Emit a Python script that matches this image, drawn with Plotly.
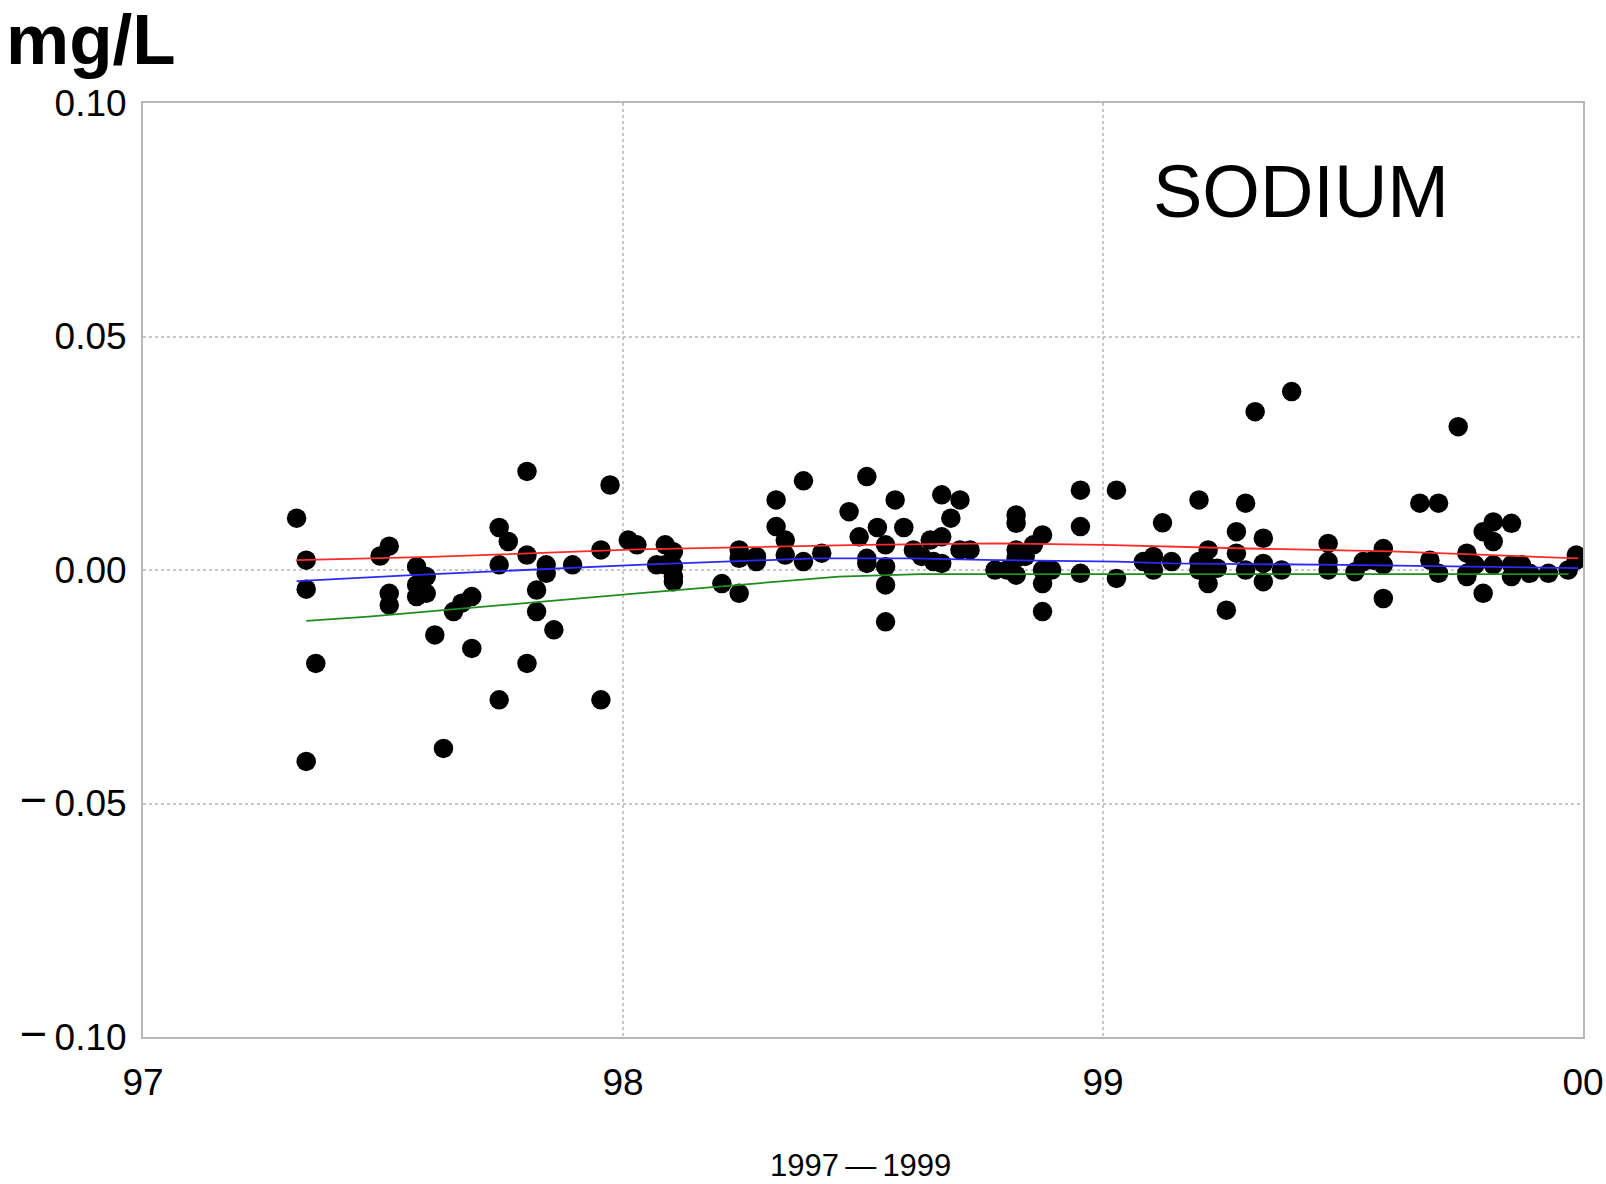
import plotly.graph_objects as go

# ---- data ----
pt_year = [97.320, 97.340, 97.340, 97.360, 97.340, 97.494, 97.513, 97.513, 97.513, 97.570,
           97.590, 97.570, 97.590, 97.570, 97.608, 97.626, 97.647, 97.664, 97.685, 97.685,
           97.742, 97.761, 97.742, 97.742, 97.800, 97.800, 97.800, 97.820, 97.820, 97.840,
           97.840, 97.856, 97.895, 97.954, 97.954, 97.973, 98.011, 98.029, 98.070, 98.088,
           98.088, 98.105, 98.105, 98.105, 98.105, 98.206, 98.242, 98.242, 98.242, 98.278,
           98.278, 98.319, 98.319, 98.338, 98.338, 98.376, 98.376, 98.414, 98.471, 98.492,
           98.508, 98.508, 98.508, 98.530, 98.547, 98.547, 98.547, 98.547, 98.567, 98.585,
           98.605, 98.622, 98.640, 98.647, 98.664, 98.664, 98.664, 98.683, 98.702, 98.702,
           98.723, 98.775, 98.800, 98.819, 98.819, 98.819, 98.819, 98.819, 98.838, 98.855,
           98.874, 98.874, 98.874, 98.874, 98.893, 98.953, 98.953, 98.953, 99.028, 99.028,
           99.084, 99.105, 99.105, 99.124, 99.143, 99.200, 99.200, 99.200, 99.219, 99.219,
           99.219, 99.238, 99.257, 99.278, 99.278, 99.297, 99.297, 99.317, 99.334, 99.334,
           99.334, 99.372, 99.393, 99.469, 99.469, 99.469, 99.525, 99.542, 99.563, 99.584,
           99.584, 99.584, 99.660, 99.699, 99.681, 99.699, 99.740, 99.758, 99.758, 99.758,
           99.775, 99.792, 99.792, 99.813, 99.813, 99.813, 99.851, 99.851, 99.851, 99.872,
           99.889, 99.928, 99.969, 99.986, 99.986]
pt_value = [0.0111, 0.0021, -0.0041, -0.0200, -0.0410, 0.0030, 0.0051, -0.0050, -0.0075, 0.0007,
            -0.0014, -0.0032, -0.0050, -0.0057, -0.0139, -0.0382, -0.0089, -0.0071, -0.0057, -0.0168,
            0.0091, 0.0061, 0.0011, -0.0278, 0.0211, 0.0032, -0.0200, -0.0043, -0.0089, 0.0011,
            -0.0007, -0.0128, 0.0011, 0.0043, -0.0278, 0.0182, 0.0064, 0.0054, 0.0011, 0.0054,
            0.0011, 0.0039, 0.0007, -0.0014, -0.0025, -0.0029, 0.0043, 0.0025, -0.0050, 0.0029,
            0.0018, 0.0150, 0.0093, 0.0064, 0.0032, 0.0191, 0.0018, 0.0036, 0.0125, 0.0071,
            0.0200, 0.0025, 0.0014, 0.0091, 0.0054, 0.0007, -0.0032, -0.0111, 0.0150, 0.0091,
            0.0043, 0.0029, 0.0064, 0.0018, 0.0161, 0.0071, 0.0014, 0.0111, 0.0150, 0.0043,
            0.0043, 0.0000, 0.0000, 0.0118, 0.0100, 0.0043, 0.0025, -0.0011, 0.0029, 0.0054,
            0.0075, 0.0000, -0.0029, -0.0089, 0.0000, 0.0171, 0.0093, -0.0007, 0.0171, -0.0018,
            0.0018, 0.0029, 0.0000, 0.0101, 0.0018, 0.0150, 0.0018, 0.0000, 0.0043, 0.0007,
            -0.0029, 0.0004, -0.0086, 0.0082, 0.0036, 0.0143, 0.0000, 0.0339, 0.0068, 0.0014,
            -0.0025, 0.0000, 0.0382, 0.0057, 0.0018, 0.0000, -0.0004, 0.0018, 0.0021, 0.0046,
            0.0011, -0.0061, 0.0143, 0.0143, 0.0021, -0.0007, 0.0307, 0.0036, -0.0007, -0.0014,
            0.0011, 0.0082, -0.0050, 0.0103, 0.0061, 0.0011, 0.0100, 0.0011, -0.0014, 0.0011,
            -0.0007, -0.0007, 0.0000, 0.0032, 0.0021]

red_year = [97.32, 97.60, 98.03, 98.50, 98.78, 99.00, 99.30, 99.60, 99.99]
red_value = [0.0021, 0.0028, 0.0044, 0.0054, 0.0057, 0.0054, 0.0046, 0.0040, 0.0025]

blue_year = [97.32, 97.56, 98.03, 98.40, 98.60, 98.78, 99.03, 99.14, 99.50, 99.99]
blue_value = [-0.0024, -0.0011, 0.0011, 0.0025, 0.0025, 0.0021, 0.0018, 0.0014, 0.0011, 0.0004]

green_year = [97.34, 97.47, 98.03, 98.45, 98.62, 99.97]
green_value = [-0.0109, -0.0100, -0.0050, -0.0014, -0.0009, -0.0009]

x_tickvals = [97, 98, 99, 100]
x_ticktext = ["97", "98", "99", "00"]
y_tickvals = [0.10, 0.05, 0.0, -0.05, -0.10]
MINUS = "<span style='font-size:47px'>\u2212</span>\u2009"
y_ticktext = ["0.10", "0.05", "0.00", MINUS + "0.05", MINUS + "0.10"]

FONT = "Liberation Sans, Arial, Helvetica, sans-serif"

fig = go.Figure()
fig.add_trace(go.Scatter(x=pt_year, y=pt_value, mode="markers",
                         marker=dict(color="black", size=19.5, line=dict(width=0)),
                         showlegend=False, hoverinfo="skip"))
fig.add_trace(go.Scatter(x=red_year, y=red_value, mode="lines",
                         line=dict(color="#ff2a2a", width=1.8), showlegend=False))
fig.add_trace(go.Scatter(x=blue_year, y=blue_value, mode="lines",
                         line=dict(color="#2a2aff", width=1.8), showlegend=False))
fig.add_trace(go.Scatter(x=green_year, y=green_value, mode="lines",
                         line=dict(color="#1e8c1e", width=1.8), showlegend=False))

fig.update_layout(
    width=1606, height=1184,
    margin=dict(l=143, r=23, t=103, b=147, autoexpand=False),
    paper_bgcolor="white", plot_bgcolor="white",
    font=dict(family=FONT, color="black"),
    xaxis=dict(range=[97, 100], tickvals=x_tickvals, ticktext=x_ticktext,
               showgrid=True, gridcolor="#c8c8c8", griddash="dot", gridwidth=1.5,
               showline=True, mirror=True, linecolor="#b8b8b8", linewidth=2,
               zeroline=False, ticks="", tickfont=dict(size=37, family=FONT),
               ticklabelstandoff=12, automargin=False),
    yaxis=dict(range=[-0.10, 0.10], tickvals=y_tickvals, ticktext=y_ticktext,
               showgrid=True, gridcolor="#c8c8c8", griddash="dot", gridwidth=1.5,
               showline=True, mirror=True, linecolor="#b8b8b8", linewidth=2,
               zeroline=False, ticks="", tickfont=dict(size=37, family=FONT),
               ticklabelstandoff=7, automargin=False),
    annotations=[
        dict(text="<b>mg/L</b>", xref="paper", yref="paper", x=-0.0965, y=1.0685,
             xanchor="left", yanchor="middle", showarrow=False,
             font=dict(size=71, family=FONT, color="black")),
        dict(text="SODIUM", xref="paper", yref="paper", x=0.804, y=0.905,
             xanchor="center", yanchor="middle", showarrow=False,
             font=dict(size=74, family=FONT, color="black")),
        dict(text="1997\u2009\u2014\u20091999", xref="paper", yref="paper", x=0.498, y=-0.138,
             xanchor="center", yanchor="middle", showarrow=False,
             font=dict(size=31, family=FONT, color="black")),
    ],
)

fig.write_html("out.html")
